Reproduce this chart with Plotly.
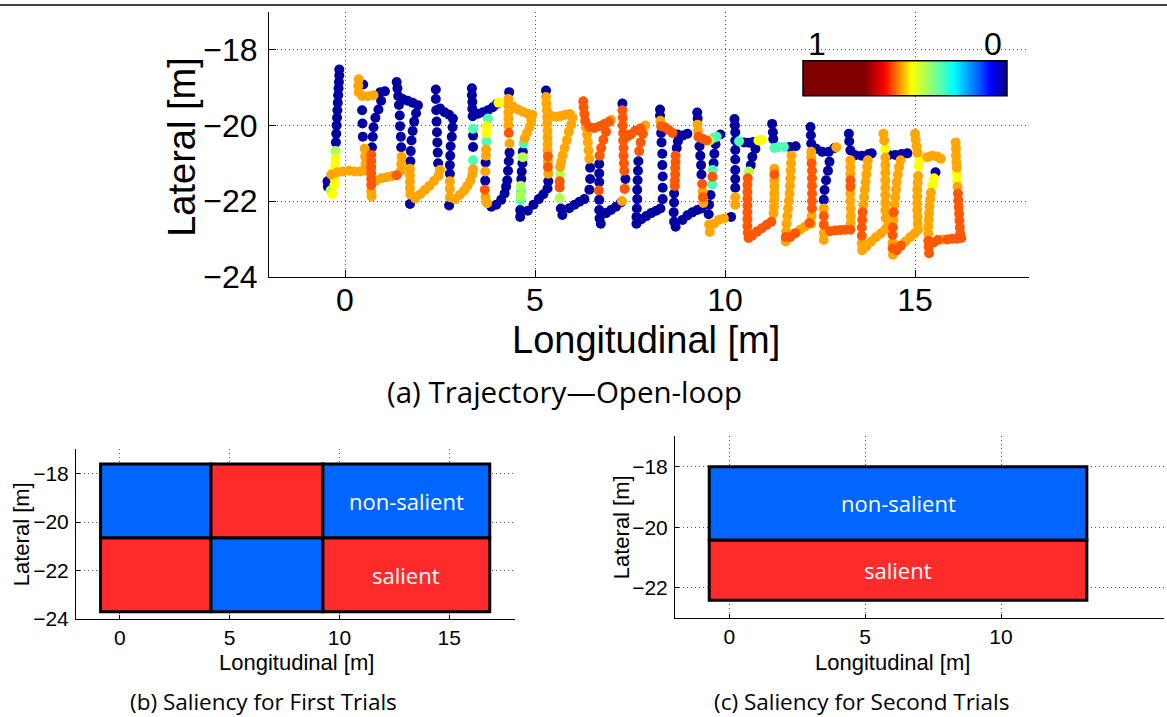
import plotly.graph_objects as go

# ---------------- (a) trajectory points, grouped by the colour they show ----------------
blue_pts = [
    (-0.15,-18.52),(-0.15,-18.68),(-0.16,-18.85),(-0.17,-19.02),(-0.18,-19.2),(-0.19,-19.4),(-0.2,-19.6),
    (-0.21,-19.8),(-0.22,-20.0),(-0.23,-20.22),(-0.24,-20.45),(-0.46,-21.48),(-0.45,-21.62),
    (0.47,-20.3),(0.46,-19.95),(0.45,-19.6),(0.48,-18.92),
    (0.93,-19.12),(1.05,-19.1),(0.95,-19.35),(0.88,-19.58),(0.8,-19.8),(0.75,-20.05),(0.73,-20.3),(0.71,-20.58),
    (1.48,-20.58),(1.47,-20.3),(1.45,-20.02),(1.44,-19.74),(1.42,-19.46),(1.4,-19.22),(1.38,-19.02),(1.36,-18.85),
    (1.52,-19.3),(1.65,-19.35),(1.78,-19.4),(1.92,-19.47),
    (1.87,-19.68),(1.82,-19.9),(1.78,-20.15),(1.75,-20.4),(1.73,-20.68),(1.72,-20.95),(1.71,-22.08),
    (2.45,-21.0),(2.44,-20.72),(2.43,-20.45),(2.42,-20.18),(2.41,-19.9),(2.4,-19.6),(2.39,-19.3),(2.39,-19.05),
    (2.5,-19.55),(2.62,-19.65),(2.74,-19.72),(2.84,-19.82),
    (2.83,-20.05),(2.81,-20.3),(2.78,-20.55),(2.77,-20.8),(2.76,-21.05),(2.76,-21.28),(2.74,-22.12),
    (3.34,-19.02),(3.34,-19.2),(3.35,-19.38),(3.35,-19.56),(3.36,-19.76),(3.37,-20.27),(3.37,-20.57),
    (3.5,-19.69),(3.63,-19.65),(3.76,-19.6),(3.89,-19.52),(4.0,-19.43),
    (3.7,-20.98),(3.69,-21.46),
    (3.85,-22.15),(3.98,-22.1),(4.11,-21.97),(4.2,-21.8),(4.24,-21.62),(4.27,-21.45),(4.29,-21.2),(4.31,-20.95),(4.33,-20.72),
    (4.32,-19.12),
    (4.68,-20.7),(4.67,-21.0),(4.65,-21.22),(4.64,-21.42),(4.61,-22.24),(4.61,-22.42),
    (4.81,-22.26),(4.96,-22.1),(5.1,-21.95),(5.22,-21.82),(5.33,-21.67),
    (5.29,-19.08),(5.35,-21.48),
    (5.68,-22.2),(5.72,-22.37),(5.9,-22.19),(6.04,-22.1),(6.17,-22.02),(6.3,-21.95),
    (6.43,-21.7),(6.45,-21.42),(6.45,-21.12),
    (6.69,-21.02),(6.69,-21.27),(6.69,-21.5),(6.69,-21.97),(6.69,-22.24),(6.7,-22.46),(6.73,-22.6),
    (6.87,-22.32),(7.0,-22.24),(7.13,-22.15),(7.26,-22.04),
    (7.38,-21.42),(7.3,-19.42),
    (7.72,-20.95),(7.71,-21.2),(7.7,-21.45),(7.69,-21.7),(7.69,-21.95),(7.68,-22.2),(7.67,-22.42),(7.67,-22.6),
    (7.8,-22.48),(7.93,-22.4),(8.06,-22.32),(8.19,-22.26),(8.3,-22.2),
    (8.29,-19.58),(8.29,-19.74),(8.32,-20.2),(8.33,-20.45),(8.35,-20.75),(8.35,-21.05),(8.36,-21.35),(8.36,-21.65),(8.36,-21.95),
    (8.75,-20.24),(8.88,-20.27),(9.01,-20.22),
    (8.76,-20.42),(8.73,-20.6),(8.66,-21.8),(8.66,-22.04),(8.65,-22.3),(8.66,-22.55),(8.7,-22.68),
    (8.88,-22.5),(9.01,-22.38),(9.14,-22.3),(9.27,-22.24),(9.38,-22.2),
    (9.27,-19.66),(9.28,-19.82),(9.33,-20.55),(9.35,-20.8),(9.37,-21.05),(9.38,-21.3),
    (9.88,-20.24),(9.75,-20.5),(9.72,-20.75),(9.7,-21.0),(9.62,-21.84),(9.58,-22.1),(9.57,-22.35),
    (10.16,-22.42),
    (10.27,-21.65),(10.27,-21.42),(10.27,-21.18),(10.27,-20.9),(10.27,-20.65),(10.27,-20.4),(10.27,-20.18),(10.26,-20.0),(10.25,-19.83),
    (10.5,-20.45),(10.63,-20.46),(10.75,-20.44),
    (10.8,-20.62),(10.72,-20.83),(10.68,-21.05),
    (11.24,-19.96),(11.26,-20.18),(11.27,-20.36),
    (11.7,-20.57),(11.86,-20.55),
    (12.27,-20.48),(12.26,-20.26),(12.25,-20.04),
    (12.4,-20.62),(12.56,-20.7),(12.73,-20.7),(12.88,-20.6),
    (12.75,-20.96),(12.71,-21.2),(12.66,-21.45),(12.62,-21.71),(12.6,-21.97),
    (13.3,-20.66),(13.27,-20.42),(13.26,-20.22),(13.43,-20.79),(13.6,-20.8),(13.78,-20.76),(13.86,-20.74),
    (14.31,-20.78),(14.48,-20.78),(14.65,-20.76),(14.8,-20.74),
    (15.54,-21.24),
]

orange_pts = [
    (-0.36,-21.3),(-0.2,-21.24),(-0.05,-21.22),(0.1,-21.2),(0.25,-21.22),(0.4,-21.22),(0.55,-21.2),
    (0.54,-21.02),(0.53,-20.82),(0.52,-20.62),
    (0.36,-18.78),(0.35,-18.95),(0.36,-19.12),(0.45,-19.22),(0.6,-19.23),(0.75,-19.2),
    (0.69,-21.74),(0.7,-21.88),
    (0.82,-21.46),(0.96,-21.4),(1.1,-21.37),(1.24,-21.34),
    (1.47,-21.2),(1.48,-21.02),(1.49,-20.83),
    (1.71,-21.15),(1.71,-21.32),(1.71,-21.49),(1.71,-21.66),(1.72,-21.83),
    (1.85,-21.93),(1.98,-21.82),(2.1,-21.71),(2.22,-21.6),(2.34,-21.47),(2.46,-21.33),(2.5,-21.18),
    (2.76,-21.48),(2.76,-21.68),(2.76,-21.9),
    (2.9,-21.95),(3.02,-21.84),(3.13,-21.73),(3.22,-21.6),(3.3,-21.46),(3.35,-21.3),(3.37,-21.16),
    (3.71,-20.64),(3.71,-20.8),(3.69,-21.22),(3.7,-21.9),(3.74,-22.06),
    (4.33,-20.48),(4.3,-20.0),(4.3,-19.82),(4.3,-19.65),(4.3,-19.47),(4.3,-19.3),
    (4.42,-19.5),(4.55,-19.58),(4.68,-19.64),(4.81,-19.69),(4.93,-19.72),(4.9,-19.88),(4.86,-20.04),(4.79,-20.2),(4.73,-20.34),
    (5.29,-19.25),(5.3,-19.42),(5.31,-19.6),(5.32,-19.78),(5.32,-19.96),(5.33,-20.14),(5.33,-20.32),(5.33,-20.5),(5.33,-20.66),
    (5.34,-20.96),(5.35,-21.28),
    (5.44,-19.75),(5.56,-19.77),(5.68,-19.75),(5.8,-19.72),(5.92,-19.7),(5.99,-19.8),
    (5.95,-19.98),(5.89,-20.17),(5.84,-20.39),(5.78,-20.6),(5.73,-20.79),(5.69,-20.96),(5.66,-21.1),
    (6.43,-20.88),(6.41,-20.66),(6.39,-20.45),(6.37,-20.25),(6.34,-20.05),(7.0,-19.86),
    (7.29,-22.0),(7.9,-20.0),
    (8.3,-19.88),
    (9.28,-19.98),(9.29,-20.15),(9.41,-21.75),(9.43,-22.05),
    (9.58,-22.62),(9.6,-22.82),(9.71,-22.6),(9.84,-22.5),(9.97,-22.46),
    (10.27,-22.1),(10.27,-21.9),
    (11.3,-21.15),(11.3,-21.45),(11.3,-21.62),(11.3,-21.8),(11.3,-21.97),(11.29,-22.15),(11.28,-22.32),
    (11.75,-20.8),(11.74,-21.0),(11.73,-21.2),(11.72,-21.4),(11.71,-21.6),(11.7,-21.8),(11.68,-22.0),
    (11.66,-22.2),(11.64,-22.4),(11.62,-22.6),(11.61,-22.8),(11.6,-23.07),
    (11.98,-22.76),(12.1,-22.68),
    (12.27,-22.6),(12.28,-22.4),(12.27,-20.85),(12.27,-20.7),(12.93,-20.58),(12.6,-22.2),(12.6,-22.85),(12.6,-23.03),
    (13.31,-22.58),(13.31,-22.4),(13.31,-22.2),(13.3,-22.0),(13.3,-21.8),(13.3,-21.28),(13.3,-21.1),(13.3,-20.92),
    (13.76,-20.92),(13.74,-21.1),(13.72,-21.3),(13.7,-21.5),(13.68,-21.7),(13.66,-21.9),(13.64,-22.1),(13.6,-23.12),(13.61,-23.3),
    (13.72,-23.2),(13.84,-23.08),(13.97,-22.96),(14.1,-22.86),(14.22,-22.75),(14.3,-22.62),
    (14.17,-20.22),(14.19,-20.4),(14.22,-20.85),(14.22,-21.05),(14.22,-21.25),(14.22,-21.45),(14.22,-21.65),(14.22,-21.85),
    (14.22,-22.05),(14.22,-22.25),(14.23,-22.45),
    (14.62,-20.92),(14.58,-21.1),(14.55,-21.3),(14.52,-21.5),(14.5,-21.7),(14.48,-21.9),(14.46,-22.1),(14.43,-22.5),
    (14.41,-23.1),(14.42,-23.42),
    (14.75,-23.07),(14.87,-22.96),(14.99,-22.86),(15.08,-22.76),
    (15.07,-22.6),(15.07,-22.42),(15.06,-22.24),(15.06,-22.06),(15.06,-21.88),(15.06,-21.7),(15.07,-21.52),(15.08,-21.34),
    (15.06,-20.72),(15.04,-20.55),(15.02,-20.38),(15.0,-20.22),
    (15.32,-20.84),(15.45,-20.8),(15.58,-20.82),(15.68,-20.88),
    (15.42,-21.78),(15.4,-21.96),(15.38,-22.14),(15.37,-22.32),(15.36,-22.5),(15.35,-22.68),(15.35,-22.86),
    (15.72,-23.02),
    (16.07,-20.45),(16.08,-20.62),(16.08,-20.8),(16.09,-20.97),(16.1,-21.12),(16.12,-21.62),
]

red_pts = [
    (0.69,-20.78),(0.69,-20.94),(0.69,-21.1),(0.69,-21.26),(0.69,-21.42),(0.69,-21.58),(1.36,-21.32),
    (3.68,-21.7),(4.31,-20.2),
    (5.34,-20.82),(5.34,-21.1),(5.65,-21.48),(5.65,-21.64),
    (6.27,-19.36),(6.28,-19.52),(6.3,-19.7),(6.32,-19.88),
    (6.43,-20.04),(6.56,-20.07),(6.7,-20.02),(6.83,-19.96),(6.94,-19.91),
    (6.87,-20.17),(6.8,-20.38),(6.74,-20.6),(6.7,-20.8),(6.68,-21.72),
    (7.36,-21.68),(7.35,-21.2),(7.34,-21.0),(7.33,-20.8),(7.33,-20.6),(7.32,-20.4),(7.32,-20.2),(7.31,-20.0),(7.31,-19.8),(7.3,-19.6),
    (7.42,-20.3),(7.52,-20.24),(7.64,-20.14),(7.77,-20.08),(7.84,-20.22),(7.78,-20.45),(7.74,-20.68),
    (8.32,-20.02),(8.42,-20.05),(8.52,-20.12),(8.62,-20.2),
    (8.7,-20.8),(8.7,-20.97),(8.69,-21.13),(8.69,-21.3),(8.68,-21.46),(8.68,-21.6),
    (9.3,-20.3),(9.4,-21.55),(9.42,-21.9),(9.42,-20.36),(9.52,-20.4),(9.67,-21.36),
    (10.6,-21.4),(10.59,-21.58),(10.59,-21.76),(10.59,-21.94),(10.59,-22.12),(10.59,-22.3),(10.59,-22.48),(10.59,-22.66),
    (10.6,-22.84),(10.62,-22.98),
    (10.71,-22.92),(10.84,-22.81),(10.97,-22.72),(11.1,-22.63),(11.22,-22.55),
    (11.3,-21.3),(11.6,-22.95),(11.72,-22.95),(11.85,-22.85),(12.22,-22.58),
    (12.29,-22.2),(12.29,-22.0),(12.29,-21.8),(12.29,-21.6),(12.29,-21.4),(12.29,-21.2),(12.28,-21.0),
    (12.6,-22.4),(12.6,-22.63),
    (12.77,-22.8),(12.9,-22.78),(13.04,-22.77),(13.17,-22.76),(13.3,-22.76),
    (13.3,-21.62),(13.3,-21.45),(13.62,-22.3),(13.61,-22.5),(13.6,-22.7),(13.6,-22.92),
    (14.44,-22.3),(14.42,-22.7),(14.41,-22.9),(14.41,-23.25),(14.52,-23.3),(14.63,-23.18),
    (15.35,-23.05),(15.36,-23.22),(15.37,-23.38),(15.48,-23.1),(15.6,-23.03),(15.85,-23.02),(15.98,-23.0),(16.1,-23.0),(16.22,-22.98),
    (16.13,-21.8),(16.14,-21.98),(16.15,-22.16),(16.16,-22.34),(16.17,-22.52),(16.18,-22.7),(16.19,-22.86),
]

yellow_pts = [
    (-0.25,-20.88),(-0.26,-21.05),(-0.27,-21.22),(-0.28,-21.4),(-0.28,-21.58),(-0.33,-21.82),
    (3.73,-20.02),(3.72,-20.2),(4.04,-19.4),
    (10.88,-20.4),(10.97,-20.38),
    (14.22,-20.62),
    (15.1,-21.08),(15.12,-20.9),(15.2,-20.85),
    (15.5,-21.4),(15.46,-21.58),
    (16.1,-21.28),(16.11,-21.45),
]

lgreen_pts = [
    (-0.25,-20.68),(-0.38,-21.72),
    (4.68,-20.84),(4.63,-21.6),(4.62,-21.87),
    (5.66,-21.3),(5.65,-21.92),
    (9.6,-20.4),
    (10.63,-21.22),
]

aqua_pts = [
    (3.37,-20.09),(3.37,-20.92),
    (3.76,-19.82),(3.72,-20.42),
    (4.7,-20.48),(4.63,-21.75),(4.62,-21.98),
    (9.7,-20.33),(9.78,-20.3),(9.68,-21.18),(9.66,-21.56),
    (10.37,-20.42),
    (11.3,-20.6),(11.42,-20.57),(11.55,-20.57),
]

# saliency read for each colour class from the colour bar (1 = left, 0 = right)
saliency_blue = 0.015
saliency_aqua = 0.32
saliency_lgreen = 0.40
saliency_yellow = 0.47
saliency_orange = 0.515
saliency_red = 0.555

# colour bar tick labels
cbar_labels = ["1", "0"]

# ---------------- (b) and (c) saliency maps ----------------
first_x_edges = [-0.88, 4.15, 9.25, 16.85]
first_y_edges = [-23.7, -20.64, -17.6]
first_cells = [["salient", "non-salient", "salient"],       # lower row
               ["non-salient", "salient", "non-salient"]]   # upper row
first_label_col = 2

second_x_edges = [-0.74, 13.16]
second_y_edges = [-22.41, -20.42, -18.0]
second_cells = [["salient"], ["non-salient"]]
second_label_col = 0

cell_colors = {"salient": "#FF2B2B", "non-salient": "#0066FF"}

# ---------------- figure ----------------
W, H = 1167, 717          # target picture size; positions below are given in these pixels
FIG_H = 734               # page height that the capture squeezes into H pixels
AXF = "Liberation Sans, Arial, sans-serif"
CAPF = "Open Sans, DejaVu Sans, sans-serif"


def px(x):
    return x / W


def py(y):
    return 1 - y / H


jet_r = [
    [0.00, "rgb(128,0,0)"], [0.30, "rgb(128,0,0)"], [0.40, "rgb(255,0,0)"],
    [0.53, "rgb(255,255,0)"], [0.63, "rgb(140,255,120)"], [0.74, "rgb(0,255,255)"],
    [0.87, "rgb(0,80,255)"], [0.92, "rgb(0,0,255)"], [1.00, "rgb(0,0,140)"],
]

xs, ys, vs = [], [], []
for pts, s in [(blue_pts, saliency_blue), (aqua_pts, saliency_aqua), (lgreen_pts, saliency_lgreen),
               (yellow_pts, saliency_yellow), (orange_pts, saliency_orange), (red_pts, saliency_red)]:
    for x, y in pts:
        xs.append(x)
        ys.append(y)
        vs.append(1 - s)

fig = go.Figure()
fig.add_trace(go.Scatter(
    x=xs, y=ys, mode="markers", xaxis="x", yaxis="y", showlegend=False, hoverinfo="skip",
    marker=dict(size=10, color=vs, colorscale=jet_r, cmin=0, cmax=1, line=dict(width=0),
                colorbar=dict(orientation="h", x=px(905), xanchor="center", y=py(79), yanchor="middle",
                              len=204 / W, lenmode="fraction", thickness=34 * FIG_H / H, thicknessmode="pixels",
                              xpad=0, ypad=0, outlinewidth=1.5, outlinecolor="black",
                              showticklabels=False, ticks="")),
))
# invisible anchors so that (b) and (c) axes exist
fig.add_trace(go.Scatter(x=[first_x_edges[0], first_x_edges[-1]], y=[first_y_edges[0], first_y_edges[-1]],
                         mode="markers", marker=dict(opacity=0), xaxis="x2", yaxis="y2",
                         showlegend=False, hoverinfo="skip"))
fig.add_trace(go.Scatter(x=[second_x_edges[0], second_x_edges[-1]], y=[second_y_edges[0], second_y_edges[-1]],
                         mode="markers", marker=dict(opacity=0), xaxis="x3", yaxis="y3",
                         showlegend=False, hoverinfo="skip"))

shapes = []
annotations = []


def cell_grid(xe, ye, cells, label_col, xr, yr):
    for r in range(len(ye) - 1):
        for c in range(len(xe) - 1):
            kind = cells[r][c]
            shapes.append(dict(type="rect", xref=xr, yref=yr, x0=xe[c], x1=xe[c + 1], y0=ye[r], y1=ye[r + 1],
                               fillcolor=cell_colors[kind], line=dict(color="black", width=3), layer="above"))
            if c == label_col:
                annotations.append(dict(xref=xr, yref=yr, x=(xe[c] + xe[c + 1]) / 2, y=(ye[r] + ye[r + 1]) / 2,
                                        text=kind, showarrow=False,
                                        font=dict(family=CAPF, size=22, color="white")))


cell_grid(first_x_edges, first_y_edges, first_cells, first_label_col, "x2", "y2")
cell_grid(second_x_edges, second_y_edges, second_cells, second_label_col, "x3", "y3")

# top rule of the page
shapes.append(dict(type="line", xref="paper", yref="paper", x0=0, x1=1, y0=py(5), y1=py(5),
                   line=dict(color="black", width=1.5)))

grid = dict(showgrid=True, gridcolor="#555", griddash="1px,3px", gridwidth=1, zeroline=False,
            showline=True, linecolor="black", linewidth=1, ticks="inside", tickcolor="black", mirror=False)

fig.update_layout(
    width=W, height=FIG_H, margin=dict(l=0, r=0, t=0, b=0),
    paper_bgcolor="white", plot_bgcolor="white", showlegend=False,
    xaxis=dict(domain=[px(269), px(1029)], range=[-2, 18], anchor="y", tickvals=[0, 5, 10, 15],
               ticklen=7, tickfont=dict(family=AXF, size=32, color="black"), ticklabelstandoff=-5, **grid),
    yaxis=dict(domain=[py(277), py(12)], range=[-24, -17], anchor="x", tickvals=[-24, -22, -20, -18],
               ticklen=7, tickfont=dict(family=AXF, size=32, color="black"), ticklabelstandoff=4, **grid),
    xaxis2=dict(domain=[px(76), px(515)], range=[-2, 18], anchor="y2", tickvals=[0, 5, 10, 15],
                ticklen=4, tickfont=dict(family=AXF, size=21, color="black"), ticklabelstandoff=0, **grid),
    yaxis2=dict(domain=[py(620), py(450)], range=[-24, -17], anchor="x2", tickvals=[-24, -22, -20, -18],
                ticklen=4, tickfont=dict(family=AXF, size=21, color="black"), ticklabelstandoff=2, **grid),
    xaxis3=dict(domain=[px(675), px(1164)], range=[-2, 16], anchor="y3", tickvals=[0, 5, 10],
                ticklen=4, tickfont=dict(family=AXF, size=21, color="black"), ticklabelstandoff=0, **grid),
    yaxis3=dict(domain=[py(619), py(437)], range=[-23, -17], anchor="x3", tickvals=[-22, -20, -18],
                ticklen=4, tickfont=dict(family=AXF, size=21, color="black"), ticklabelstandoff=2, **grid),
    shapes=shapes,
)

# axis titles, colour-bar labels and sub-captions
texts = [
    ("Longitudinal [m]", 646, 340, 38, AXF, 0),
    ("Lateral [m]", 182, 147, 38, AXF, -90),
    (cbar_labels[0], 817, 44, 32, AXF, 0),
    (cbar_labels[1], 993, 44, 32, AXF, 0),
    ("(a) Trajectory\u2014Open-loop", 564, 392, 29.5, CAPF, 0),
    ("Longitudinal [m]", 296, 663, 22, AXF, 0),
    ("Lateral [m]", 21, 535, 22, AXF, -90),
    ("(b) Saliency for First Trials", 263, 702, 22.5, CAPF, 0),
    ("Longitudinal [m]", 892, 663, 22, AXF, 0),
    ("Lateral [m]", 621, 528, 22, AXF, -90),
    ("(c) Saliency for Second Trials", 861, 702, 22.5, CAPF, 0),
]
for t, x, y, s, f, a in texts:
    annotations.append(dict(xref="paper", yref="paper", x=px(x), y=py(y), xanchor="center", yanchor="middle",
                            text=t, showarrow=False, textangle=a, borderpad=0,
                            font=dict(family=f, size=s, color="black")))
fig.update_layout(annotations=annotations)

# pin the figure to the window's top-left corner, with no page margin or scroll area
page_js = (
    "document.documentElement.style.margin='0';document.documentElement.style.overflow='hidden';"
    "document.body.style.margin='0';document.body.style.overflow='hidden';"
    "var g=document.getElementById('{plot_id}');g.style.position='absolute';g.style.left='0px';g.style.top='0px';"
)
fig.write_html("out.html", config={"displayModeBar": False}, post_script=page_js)
